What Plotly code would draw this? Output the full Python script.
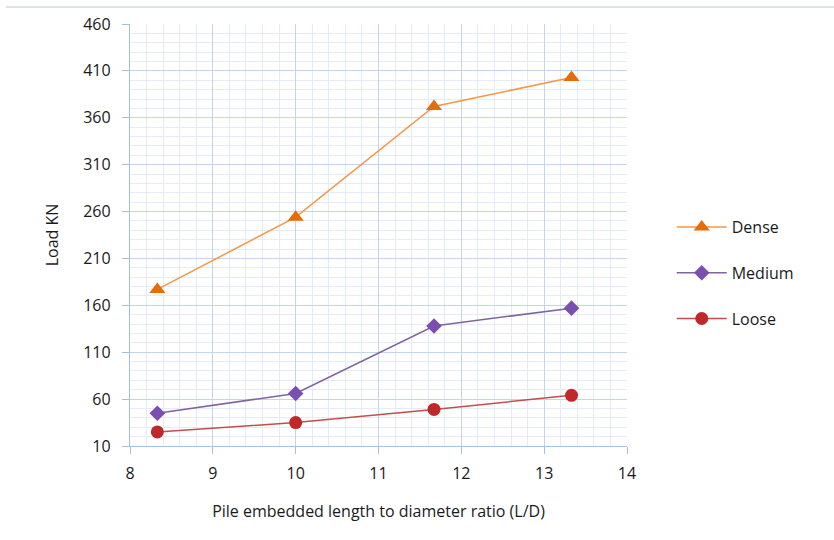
import plotly.graph_objects as go

ld_ratio = [8.33, 10, 11.67, 13.33]
dense = [177, 254, 372, 403]
medium = [45, 66, 138, 157]
loose = [25, 35, 49, 64]

series_names = ["Dense", "Medium", "Loose"]
y_ticks = [10, 60, 110, 160, 210, 260, 310, 360, 410, 460]
x_ticks = [8, 9, 10, 11, 12, 13, 14]

FONT = "Open Sans"
TXT = "#1a1a1a"

fig = go.Figure()
fig.add_trace(go.Scatter(
    x=ld_ratio, y=dense, name=series_names[0], mode="lines+markers", legendgroup="a",
    line=dict(color="#F79646", width=1.5),
    marker=dict(symbol="triangle-up", size=14, color="#E46C0A")))
fig.add_trace(go.Scatter(
    x=ld_ratio, y=medium, name=series_names[1], mode="lines+markers", legendgroup="b",
    line=dict(color="#8064A2", width=1.5),
    marker=dict(symbol="diamond", size=12, color="#7B4FB0")))
fig.add_trace(go.Scatter(
    x=ld_ratio, y=loose, name=series_names[2], mode="lines+markers", legendgroup="c",
    line=dict(color="#C0504D", width=1.5),
    marker=dict(symbol="circle", size=13, color="#C0282A")))

axis_common = dict(
    showline=True, linecolor="#A3BFE3", linewidth=1.3,
    showgrid=True, gridcolor="#C3D6EE", gridwidth=1,
    ticks="outside", ticklen=7, tickcolor="#A3BFE3",
    tickfont=dict(family=FONT, size=16, color=TXT),
    zeroline=False, mirror=False,
)

fig.update_xaxes(
    range=[8, 14], tickvals=x_ticks, ticktext=[str(v) for v in x_ticks],
    ticklabelstandoff=6,
    minor=dict(dtick=0.2, showgrid=True, gridcolor="#E4ECF7", gridwidth=1, tick0=8),
    title=dict(text="Pile embedded length to diameter ratio (L/D)",
               font=dict(family=FONT, size=16, color=TXT), standoff=22),
    **axis_common)
fig.update_yaxes(
    range=[10, 460], tickvals=y_ticks, ticktext=[str(v) for v in y_ticks],
    ticklabelstandoff=8,
    minor=dict(dtick=10, showgrid=True, gridcolor="#E4ECF7", gridwidth=1, tick0=10),
    title=dict(text="Load KN", font=dict(family=FONT, size=16, color=TXT), standoff=20),
    **axis_common)

fig.add_shape(type="line", xref="paper", yref="paper", x0=-0.25, x1=1.5,
              y0=1.04, y1=1.04, line=dict(color="#DCE3EC", width=2))

fig.update_layout(
    width=834, height=540,
    margin=dict(l=130, r=207, t=24, b=94),
    paper_bgcolor="white", plot_bgcolor="white",
    showlegend=True,
    legend=dict(x=1.09, y=0.41, xanchor="left", yanchor="middle",
                font=dict(family=FONT, size=16, color=TXT),
                itemwidth=50, tracegroupgap=22, bgcolor="rgba(0,0,0,0)"),
)

fig.write_html("out.html")
